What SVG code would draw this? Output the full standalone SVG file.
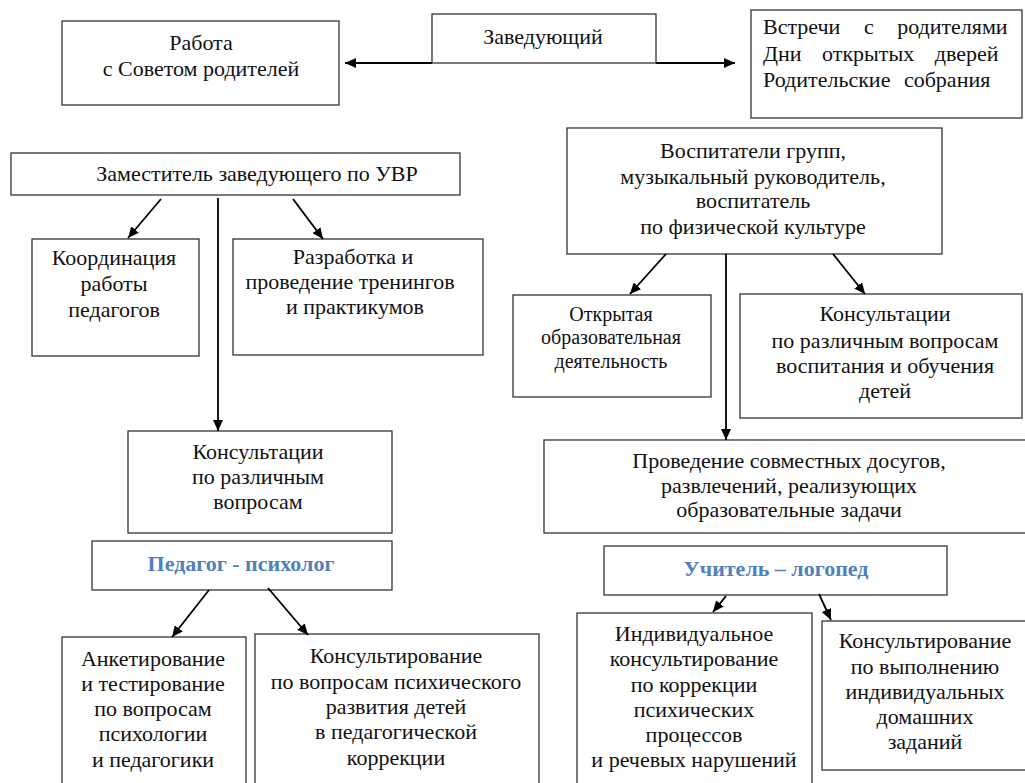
<svg xmlns="http://www.w3.org/2000/svg" width="1025" height="783" viewBox="0 0 1025 783">
<style>
text{font-family:'Liberation Serif',serif;font-size:22px;fill:#111;text-anchor:middle}
.box{fill:#fff;stroke:#333;stroke-width:1.3}
.s{font-size:20px}
.b{font-weight:bold;fill:#4f81bd}
.l{text-anchor:start}
.c{stroke:#000;stroke-width:1.8;fill:none}
</style>
<defs>
<marker id="ah" markerUnits="userSpaceOnUse" markerWidth="12" markerHeight="10" refX="11" refY="5" orient="auto">
<path d="M0,0 L11,5 L0,10 z" fill="#000"/>
</marker>
</defs>
<rect width="1025" height="783" fill="#fff"/>
<g id="zav"><rect class="box" x="432" y="14" width="224" height="49"/><text x="543" y="44">Заведующий</text></g>
<g id="rabota"><rect class="box" x="62" y="21" width="277" height="84"/><text x="201" y="50">Работа</text><text x="201" y="76">с Советом родителей</text></g>
<g id="vstrechi"><rect class="box" x="751" y="10" width="271" height="108"/>
<text class="l" x="763" y="34" word-spacing="18">Встречи с родителями</text>
<text class="l" x="763" y="61" word-spacing="15">Дни открытых дверей</text>
<text class="l" x="763" y="87" word-spacing="8">Родительские собрания</text></g>
<g id="zam"><rect class="box" x="11" y="153" width="449" height="42"/><text x="257" y="181">Заместитель заведующего по УВР</text></g>
<g id="koord"><rect class="box" x="32" y="239" width="167" height="117"/><text x="114" y="265">Координация</text><text x="114" y="291">работы</text><text x="114" y="317">педагогов</text></g>
<g id="razrab"><rect class="box" x="233" y="239" width="250" height="116"/><text x="353" y="264">Разработка и</text><text x="350" y="289">проведение тренингов</text><text x="355" y="314">и практикумов</text></g>
<g id="vospit"><rect class="box" x="567" y="128" width="375" height="126"/><text x="753" y="158">Воспитатели групп,</text><text x="753" y="184">музыкальный руководитель,</text><text x="753" y="208">воспитатель</text><text x="753" y="234">по физической культуре</text></g>
<g id="otkr"><rect class="box" x="513" y="295" width="198" height="102"/><text class="s" x="611" y="321">Открытая</text><text class="s" x="611" y="344">образовательная</text><text class="s" x="611" y="368">деятельность</text></g>
<g id="konsR"><rect class="box" x="740" y="294" width="282" height="124"/><text x="885" y="321">Консультации</text><text x="885" y="348">по различным вопросам</text><text x="885" y="373">воспитания и обучения</text><text x="885" y="398">детей</text></g>
<g id="konsL"><rect class="box" x="128" y="431" width="264" height="102"/><text x="258" y="459">Консультации</text><text x="258" y="484">по различным</text><text x="258" y="509">вопросам</text></g>
<g id="ped"><rect class="box" x="92" y="541" width="300" height="49"/><text class="b" x="241" y="571">Педагог - психолог</text></g>
<g id="anket"><rect class="box" x="62" y="637" width="184" height="160"/><text x="153" y="666">Анкетирование</text><text x="153" y="691">и тестирование</text><text x="153" y="716">по вопросам</text><text x="153" y="741">психологии</text><text x="153" y="767">и педагогики</text></g>
<g id="konsPsy"><rect class="box" x="255" y="634" width="284" height="160"/><text x="396" y="663">Консультирование</text><text x="396" y="689">по вопросам психического</text><text x="396" y="714">развития детей</text><text x="396" y="739">в педагогической</text><text x="396" y="765">коррекции</text></g>
<g id="proved"><rect class="box" x="544" y="440" width="490" height="93"/><text x="789" y="468">Проведение совместных досугов,</text><text x="789" y="493">развлечений, реализующих</text><text x="789" y="517">образовательные задачи</text></g>
<g id="uchit"><rect class="box" x="604" y="546" width="343" height="49"/><text class="b" x="776" y="576">Учитель – логопед</text></g>
<g id="individ"><rect class="box" x="577" y="613" width="235" height="180"/><text x="694" y="641">Индивидуальное</text><text x="694" y="666">консультирование</text><text x="694" y="692">по коррекции</text><text x="694" y="717">психических</text><text x="694" y="742">процессов</text><text x="694" y="767">и речевых нарушений</text></g>
<g id="konsLog"><rect class="box" x="822" y="621" width="212" height="149"/><text x="925" y="648">Консультирование</text><text x="925" y="674">по выполнению</text><text x="925" y="699">индивидуальных</text><text x="925" y="724">домашних</text><text x="925" y="749">заданий</text></g>
<g id="connectors">
<line class="c" x1="432" y1="63" x2="345" y2="63" marker-end="url(#ah)"/>
<line class="c" x1="656" y1="63" x2="735" y2="63" marker-end="url(#ah)"/>
<line class="c" x1="161" y1="199" x2="128" y2="238" marker-end="url(#ah)"/>
<line class="c" x1="293" y1="199" x2="323" y2="239" marker-end="url(#ah)"/>
<line class="c" x1="218" y1="198" x2="218" y2="431" marker-end="url(#ah)"/>
<line class="c" x1="666" y1="254" x2="630" y2="294" marker-end="url(#ah)"/>
<line class="c" x1="833" y1="254" x2="865" y2="294" marker-end="url(#ah)"/>
<line class="c" x1="726" y1="254" x2="726" y2="440" marker-end="url(#ah)"/>
<line class="c" x1="209" y1="590" x2="172" y2="637" marker-end="url(#ah)"/>
<line class="c" x1="268" y1="588" x2="308" y2="635" marker-end="url(#ah)"/>
<line class="c" x1="726" y1="596" x2="713" y2="612" marker-end="url(#ah)"/>
<line class="c" x1="819" y1="594" x2="831" y2="620" marker-end="url(#ah)"/>
</g>
</svg>
